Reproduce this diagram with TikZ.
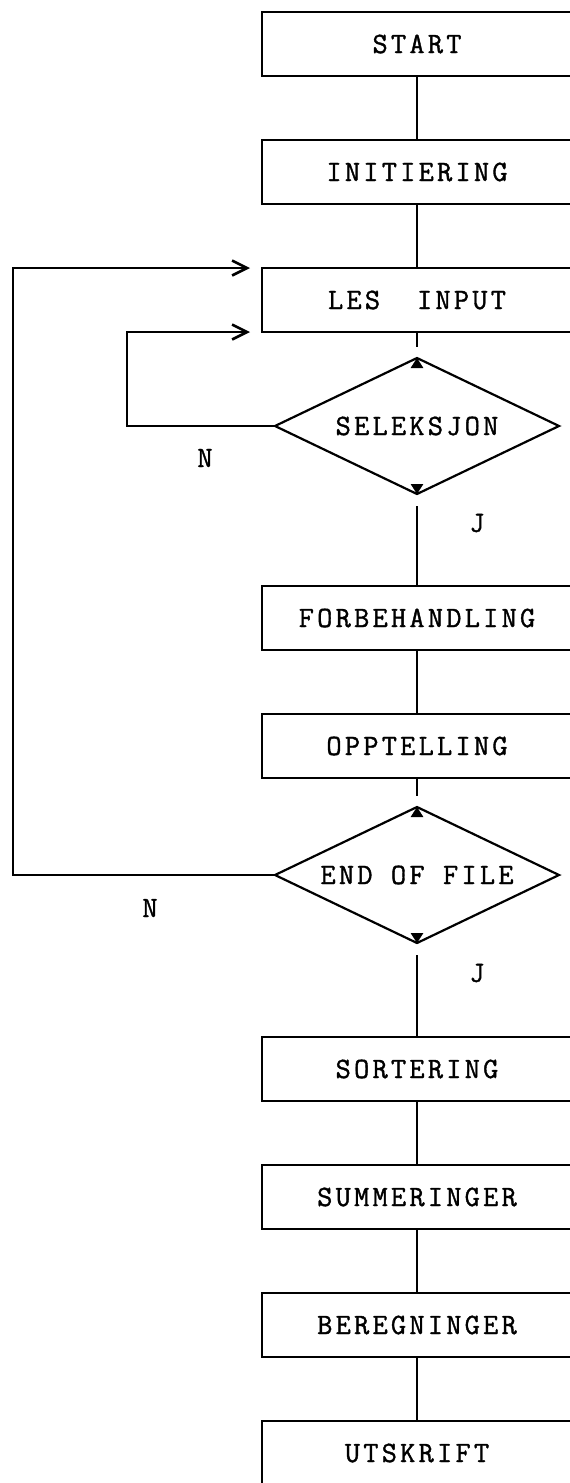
\documentclass[tikz,border=0pt]{standalone}
\usepackage{fontspec}
\newfontfamily\typer[FakeBold=1.3,LetterSpace=11]{Latin Modern Mono}
\usepackage{tikz}
\usetikzlibrary{positioning,arrows.meta,shapes.geometric}

\begin{document}
\begin{tikzpicture}[
            node distance=32pt,
            font=\typer\fontsize{14.75}{18}\selectfont,
            line width=1.1pt,
            every node/.style={outer sep=0pt},
            stepbox/.style={rectangle,draw,minimum width=155pt,minimum height=32pt,inner sep=0pt,align=center},
            choice/.style={diamond,draw,minimum width=142pt,minimum height=68pt,aspect=2.09,inner sep=0pt},
            lbl/.style={inner sep=0pt},
            link/.style={line cap=butt},
            back/.style={-{Straight Barb[length=7.5pt,width=7.5pt,line width=1.3pt]},shorten >=6pt}]
            \useasboundingbox (0,0) rectangle (284.5pt,-741.5pt);
            % left margins of the two return loops
            \coordinate (outer) at (6.5pt,0);
            \coordinate (inner) at (63.5pt,0);
            \node[stepbox] (start) at (208.5pt,-22pt) {START};
            \node[stepbox,below=of start] (init) {INITIERING};
            \node[stepbox,below=of init] (les) {LES~~INPUT};
            \node[choice,below=13pt of les] (sel) {SELEKSJON};
            \node[stepbox,below=46pt of sel] (forb) {FORBEHANDLING};
            \node[stepbox,below=of forb] (opp) {OPPTELLING};
            \node[choice,below=14.5pt of opp] (eof) {END OF FILE};
            \node[stepbox,below=47pt of eof] (sort) {SORTERING};
            \node[stepbox,below=of sort] (summ) {SUMMERINGER};
            \node[stepbox,below=of summ] (ber) {BEREGNINGER};
            \node[stepbox,below=of ber] (uts) {UTSKRIFT};
            % filled corners on top and bottom of the tests
            \foreach \d in {sel,eof} {
                \fill (\d.north) -- ++(-3.2pt,-5pt) -- ++(6.4pt,0) -- cycle;
                \fill (\d.south) -- ++(-3.2pt,5pt) -- ++(6.4pt,0) -- cycle;
            }
            \node[lbl] (sn) at ([shift={(-106pt,-16pt)}]sel.center) {N};
            \node[lbl] (sj) at ([shift={(30pt,-48.5pt)}]sel.center) {J};
            \node[lbl] (en) at ([shift={(-133.5pt,-16.5pt)}]eof.center) {N};
            \node[lbl] (ej) at ([shift={(30pt,-49pt)}]eof.center) {J};
            \draw[link] (start)--(init);
            \draw[link] (init)--(les);
            \draw[link,shorten >=5.5pt] (les)--(sel);
            \draw[link,shorten <=6pt] (sel)--(forb);
            \draw[link] (forb)--(opp);
            \draw[link,shorten >=5.5pt] (opp)--(eof);
            \draw[link,shorten <=6pt] (eof)--(sort);
            \draw[link] (sort)--(summ);
            \draw[link] (summ)--(ber);
            \draw[link] (ber)--(uts);
            \draw[back] (sel.west) -| (les.south west -| inner) -- (les.south west);
            \draw[back] (eof.west) -| (les.north west -| outer) -- (les.north west);
        \end{tikzpicture}
\end{document}
